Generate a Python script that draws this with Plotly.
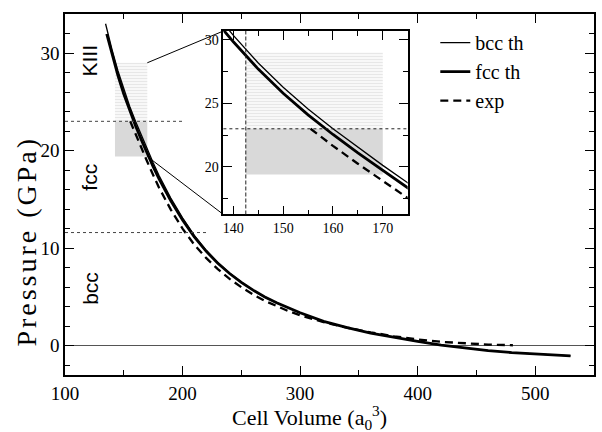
import plotly.graph_objects as go

# ---------------- data ----------------
V_bcc = [134.5, 135, 140, 145, 150, 155, 160, 165, 170, 175, 180, 190, 200, 210, 220, 230, 240,
         250, 260, 270, 280, 290, 300, 320, 340, 360, 380, 400, 420, 440, 460, 480, 500, 530]
P_bcc = [33.0, 32.75, 30.35, 28.18, 26.27, 24.55, 23.0, 21.53, 20.12, 18.75, 17.45, 15.13, 13.1,
         11.3, 9.8, 8.52, 7.45, 6.52, 5.7, 5.0, 4.4, 3.85, 3.38, 2.5, 1.85, 1.3, 0.86, 0.45, 0.07,
         -0.25, -0.5, -0.7, -0.86, -1.05]

V_fcc = [135.5, 140, 145, 150, 155, 160, 165, 170, 175, 180, 190, 200, 210, 220, 230, 240,
         250, 260, 270, 280, 290, 300, 320, 340, 360, 380, 400, 420, 440, 460, 480, 500, 530]
P_fcc = [31.95, 29.85, 27.7, 25.8, 24.1, 22.55, 21.1, 19.7, 18.35, 17.1, 14.85, 12.9, 11.15,
         9.7, 8.45, 7.4, 6.5, 5.7, 5.0, 4.4, 3.85, 3.38, 2.5, 1.85, 1.3, 0.86, 0.45, 0.07,
         -0.25, -0.5, -0.7, -0.86, -1.05]

V_exp = [155.5, 160, 165, 170, 175, 180, 190, 200, 210, 220, 230, 240, 250, 260, 270, 280,
         290, 300, 320, 340, 360, 380, 400, 420, 440, 460, 481]
P_exp = [23.0, 21.65, 20.25, 18.85, 17.5, 16.2, 13.95, 12.0, 10.35, 9.0, 7.85, 6.85, 6.0, 5.25,
         4.6, 4.05, 3.55, 3.12, 2.42, 1.85, 1.37, 0.97, 0.64, 0.4, 0.23, 0.12, 0.05]

# phase boundaries (GPa) and how far their dotted markers run (cell volume)
P_transitions = [11.6, 23.0]          # bcc->fcc, fcc->KIII
V_transition_ends = [220, 200]
# experimental transition volume and the coexistence box
V_exp_transition = 142.5
V_box = [142.5, 170]
P_box = [19.4, 23.0, 29.0]            # bottom, transition, top

phase_labels = ["bcc", "fcc", "KIII"]
phase_label_P = [5.9, 17.3, 29.2]
phase_label_V = 121

x_title = "Cell Volume (a<sub>0</sub><sup>3</sup>)"
y_title = "Pressure (GPa)"

main_xrange = [100, 550]
main_yrange = [-3, 34]
inset_xrange = [138, 175]
inset_yrange = [16.25, 30.7]
inset_dom_x = [0.2994, 0.6478]
inset_dom_y = [0.4446, 0.9529]

SERIF = "Liberation Serif, Times New Roman, serif"
SANS = "Liberation Sans, Arial, sans-serif"

fig = go.Figure()

def box_traces(xa, ya):
    bx = [V_box[0], V_box[1], V_box[1], V_box[0], V_box[0]]
    fig.add_trace(go.Scatter(
        x=bx, y=[P_box[0], P_box[0], P_box[1], P_box[1], P_box[0]],
        mode="lines", fill="toself", fillcolor="#d9d9d9", line=dict(width=0),
        showlegend=False, hoverinfo="skip", xaxis=xa, yaxis=ya))
    fig.add_trace(go.Scatter(
        x=bx, y=[P_box[1], P_box[1], P_box[2], P_box[2], P_box[1]],
        mode="lines", fill="toself", fillcolor="#d4d4d4", line=dict(width=0),
        fillpattern=dict(shape="-", size=3, solidity=0.55, fgcolor="#d0d0d0", bgcolor="white"),
        showlegend=False, hoverinfo="skip", xaxis=xa, yaxis=ya))

box_traces("x", "y")
box_traces("x2", "y2")

series = [
    ("bcc th", V_bcc, P_bcc, dict(color="black", width=1.3)),
    ("fcc th", V_fcc, P_fcc, dict(color="black", width=2.8)),
    ("exp", V_exp, P_exp, dict(color="black", width=2.3, dash="8px,5px")),
]
for name, vx, py, ln in series:
    fig.add_trace(go.Scatter(x=vx, y=py, mode="lines", name=name, line=ln,
                             xaxis="x", yaxis="y"))
for name, vx, py, ln in series:
    fig.add_trace(go.Scatter(x=vx, y=py, mode="lines", name=name, line=ln,
                             showlegend=False, xaxis="x2", yaxis="y2"))

shapes = []
for p, vend in zip(P_transitions, V_transition_ends):
    shapes.append(dict(type="line", xref="x", yref="y", x0=main_xrange[0], x1=vend, y0=p, y1=p,
                       line=dict(color="#444", width=1, dash="dot")))
# inset guide lines
shapes.append(dict(type="line", xref="x2 domain", yref="y2", x0=0, x1=1,
                   y0=P_transitions[1], y1=P_transitions[1],
                   line=dict(color="#222", width=1, dash="dot")))
shapes.append(dict(type="line", xref="x2", yref="y2 domain", x0=V_exp_transition,
                   x1=V_exp_transition, y0=0, y1=1,
                   line=dict(color="#222", width=1, dash="4px,2px")))

# connectors from the zoom box (main data coords) to inset corners (paper)
def to_paper(v, p):
    return ((v - main_xrange[0]) / (main_xrange[1] - main_xrange[0]),
            (p - main_yrange[0]) / (main_yrange[1] - main_yrange[0]))

tx, ty = to_paper(V_box[1], P_box[2])
bx_, by_ = to_paper(V_box[1], P_box[0])
shapes.append(dict(type="line", xref="paper", yref="paper", x0=tx, y0=ty,
                   x1=inset_dom_x[0], y1=inset_dom_y[1], line=dict(color="black", width=1)))
shapes.append(dict(type="line", xref="paper", yref="paper", x0=bx_, y0=by_,
                   x1=inset_dom_x[0], y1=inset_dom_y[0], line=dict(color="black", width=1)))

annotations = []
for lab, p in zip(phase_labels, phase_label_P):
    annotations.append(dict(x=phase_label_V, y=p, xref="x", yref="y", text=lab,
                            textangle=-90, showarrow=False,
                            font=dict(family=SANS, size=21, color="black")))
# axis titles (placed as in the reference)
annotations.append(dict(x=0.463, y=-0.119, xref="paper", yref="paper", text=x_title,
                        showarrow=False, xanchor="center", yanchor="middle",
                        font=dict(family=SERIF, size=22, color="black")))
annotations.append(dict(x=-0.072, y=0.372, xref="paper", yref="paper",
                        text='<span style="letter-spacing:3px">' + y_title + '</span>',
                        textangle=-90, showarrow=False, xanchor="center", yanchor="middle",
                        font=dict(family=SERIF, size=28, color="black")))

axis_common = dict(showline=True, linecolor="black", linewidth=1.5, mirror="allticks",
                   ticks="inside", tickcolor="black", tickwidth=1.3, showgrid=False,
                   zeroline=False)

fig.update_layout(
    width=602, height=432,
    margin=dict(l=65, r=6, t=14, b=57),
    paper_bgcolor="white", plot_bgcolor="white",
    font=dict(family=SERIF, color="black"),
    xaxis=dict(range=main_xrange, tick0=100, dtick=100, ticklen=9,
               minor=dict(dtick=50, ticklen=5, ticks="inside", tickcolor="black"),
               tickfont=dict(size=19, family=SERIF),
               **axis_common),
    yaxis=dict(range=main_yrange, tick0=0, dtick=10, ticklen=9,
               minor=dict(dtick=2, ticklen=5, ticks="inside", tickcolor="black"),
               tickfont=dict(size=19, family=SERIF),
               **{**axis_common, "zeroline": True}, zerolinecolor="#555", zerolinewidth=1),
    xaxis2=dict(domain=inset_dom_x, anchor="y2", range=inset_xrange, tick0=140, dtick=10,
                ticklen=9, minor=dict(dtick=5, ticklen=5, ticks="inside", tickcolor="black"),
                tickfont=dict(size=14, family=SERIF), **axis_common),
    yaxis2=dict(domain=inset_dom_y, anchor="x2", range=inset_yrange, tick0=20, dtick=5,
                ticklen=9, minor=dict(dtick=2.5, ticklen=5, ticks="inside", tickcolor="black"),
                tickfont=dict(size=14, family=SERIF), **axis_common),
    legend=dict(x=0.70, y=0.975, xanchor="left", yanchor="top", bgcolor="rgba(0,0,0,0)",
                font=dict(size=20, family=SERIF), itemwidth=30, tracegroupgap=0),
    shapes=shapes,
    annotations=annotations,
)

fig.write_html("out.html")
